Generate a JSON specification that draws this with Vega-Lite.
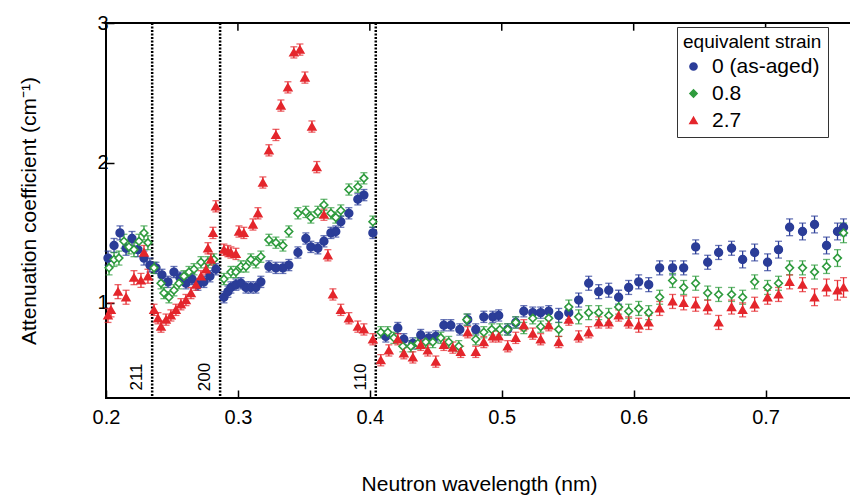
{
  "$schema": "https://vega.github.io/schema/vega-lite/v6.json",
  "autosize": {"type": "none"},
  "width": 746,
  "height": 375,
  "padding": {"left": 106, "top": 23, "right": 0, "bottom": 99},
  "background": "white",
  "config": {
    "font": "Liberation Sans",
    "view": {"stroke": "black", "strokeWidth": 2},
    "axis": {"grid": false, "domain": false, "labelColor": "black", "titleColor": "black", "tickColor": "black", "titleFontWeight": "normal", "labelFontSize": 20, "titleFontSize": 21, "tickSize": -8, "tickWidth": 1.5, "labelFlush": false}
  },
  "datasets": {
    "lines": [
      {"x": 0.235, "l": "211"},
      {"x": 0.2865, "l": "200"},
      {"x": 0.4045, "l": "110"}
    ],
    "topticks": [{"t": 0.3}, {"t": 0.4}, {"t": 0.5}, {"t": 0.6}, {"t": 0.7}],
    "pts": [
      {"s": "0 (as-aged)", "x": 0.2015, "y": 1.32, "e": 0.05},
      {"s": "0 (as-aged)", "x": 0.2061, "y": 1.41, "e": 0.05},
      {"s": "0 (as-aged)", "x": 0.2106, "y": 1.50, "e": 0.05},
      {"s": "0 (as-aged)", "x": 0.2152, "y": 1.39, "e": 0.05},
      {"s": "0 (as-aged)", "x": 0.2197, "y": 1.46, "e": 0.05},
      {"s": "0 (as-aged)", "x": 0.2242, "y": 1.38, "e": 0.05},
      {"s": "0 (as-aged)", "x": 0.2288, "y": 1.32, "e": 0.05},
      {"s": "0 (as-aged)", "x": 0.2333, "y": 1.27, "e": 0.05},
      {"s": "0 (as-aged)", "x": 0.2379, "y": 1.25, "e": 0.04},
      {"s": "0 (as-aged)", "x": 0.2424, "y": 1.20, "e": 0.04},
      {"s": "0 (as-aged)", "x": 0.2470, "y": 1.15, "e": 0.04},
      {"s": "0 (as-aged)", "x": 0.2515, "y": 1.22, "e": 0.04},
      {"s": "0 (as-aged)", "x": 0.2561, "y": 1.18, "e": 0.04},
      {"s": "0 (as-aged)", "x": 0.2606, "y": 1.14, "e": 0.04},
      {"s": "0 (as-aged)", "x": 0.2652, "y": 1.17, "e": 0.04},
      {"s": "0 (as-aged)", "x": 0.2697, "y": 1.13, "e": 0.04},
      {"s": "0 (as-aged)", "x": 0.2742, "y": 1.15, "e": 0.04},
      {"s": "0 (as-aged)", "x": 0.2788, "y": 1.19, "e": 0.04},
      {"s": "0 (as-aged)", "x": 0.2833, "y": 1.24, "e": 0.04},
      {"s": "0 (as-aged)", "x": 0.2894, "y": 1.04, "e": 0.04},
      {"s": "0 (as-aged)", "x": 0.2924, "y": 1.08, "e": 0.04},
      {"s": "0 (as-aged)", "x": 0.2947, "y": 1.11, "e": 0.04},
      {"s": "0 (as-aged)", "x": 0.2985, "y": 1.13, "e": 0.04},
      {"s": "0 (as-aged)", "x": 0.3023, "y": 1.14, "e": 0.04},
      {"s": "0 (as-aged)", "x": 0.3061, "y": 1.11, "e": 0.04},
      {"s": "0 (as-aged)", "x": 0.3098, "y": 1.11, "e": 0.04},
      {"s": "0 (as-aged)", "x": 0.3136, "y": 1.11, "e": 0.04},
      {"s": "0 (as-aged)", "x": 0.3174, "y": 1.15, "e": 0.04},
      {"s": "0 (as-aged)", "x": 0.3235, "y": 1.26, "e": 0.04},
      {"s": "0 (as-aged)", "x": 0.3288, "y": 1.25, "e": 0.04},
      {"s": "0 (as-aged)", "x": 0.3341, "y": 1.25, "e": 0.04},
      {"s": "0 (as-aged)", "x": 0.3386, "y": 1.27, "e": 0.04},
      {"s": "0 (as-aged)", "x": 0.3455, "y": 1.36, "e": 0.04},
      {"s": "0 (as-aged)", "x": 0.3515, "y": 1.46, "e": 0.04},
      {"s": "0 (as-aged)", "x": 0.3553, "y": 1.40, "e": 0.04},
      {"s": "0 (as-aged)", "x": 0.3606, "y": 1.39, "e": 0.04},
      {"s": "0 (as-aged)", "x": 0.3652, "y": 1.44, "e": 0.04},
      {"s": "0 (as-aged)", "x": 0.3705, "y": 1.50, "e": 0.04},
      {"s": "0 (as-aged)", "x": 0.3742, "y": 1.51, "e": 0.04},
      {"s": "0 (as-aged)", "x": 0.3780, "y": 1.58, "e": 0.04},
      {"s": "0 (as-aged)", "x": 0.3841, "y": 1.64, "e": 0.04},
      {"s": "0 (as-aged)", "x": 0.3909, "y": 1.74, "e": 0.04},
      {"s": "0 (as-aged)", "x": 0.3955, "y": 1.77, "e": 0.04},
      {"s": "0 (as-aged)", "x": 0.4023, "y": 1.50, "e": 0.04},
      {"s": "0 (as-aged)", "x": 0.4121, "y": 0.76, "e": 0.04},
      {"s": "0 (as-aged)", "x": 0.4212, "y": 0.82, "e": 0.04},
      {"s": "0 (as-aged)", "x": 0.4258, "y": 0.74, "e": 0.04},
      {"s": "0 (as-aged)", "x": 0.4326, "y": 0.71, "e": 0.04},
      {"s": "0 (as-aged)", "x": 0.4386, "y": 0.77, "e": 0.04},
      {"s": "0 (as-aged)", "x": 0.4447, "y": 0.75, "e": 0.04},
      {"s": "0 (as-aged)", "x": 0.4500, "y": 0.76, "e": 0.04},
      {"s": "0 (as-aged)", "x": 0.4561, "y": 0.84, "e": 0.04},
      {"s": "0 (as-aged)", "x": 0.4614, "y": 0.84, "e": 0.04},
      {"s": "0 (as-aged)", "x": 0.4682, "y": 0.81, "e": 0.04},
      {"s": "0 (as-aged)", "x": 0.4742, "y": 0.88, "e": 0.04},
      {"s": "0 (as-aged)", "x": 0.4803, "y": 0.81, "e": 0.04},
      {"s": "0 (as-aged)", "x": 0.4864, "y": 0.90, "e": 0.04},
      {"s": "0 (as-aged)", "x": 0.4932, "y": 0.90, "e": 0.04},
      {"s": "0 (as-aged)", "x": 0.4977, "y": 0.91, "e": 0.04},
      {"s": "0 (as-aged)", "x": 0.5045, "y": 0.81, "e": 0.04},
      {"s": "0 (as-aged)", "x": 0.5106, "y": 0.86, "e": 0.04},
      {"s": "0 (as-aged)", "x": 0.5167, "y": 0.94, "e": 0.04},
      {"s": "0 (as-aged)", "x": 0.5235, "y": 0.93, "e": 0.04},
      {"s": "0 (as-aged)", "x": 0.5295, "y": 0.93, "e": 0.04},
      {"s": "0 (as-aged)", "x": 0.5356, "y": 0.94, "e": 0.04},
      {"s": "0 (as-aged)", "x": 0.5432, "y": 0.91, "e": 0.05},
      {"s": "0 (as-aged)", "x": 0.5508, "y": 0.93, "e": 0.05},
      {"s": "0 (as-aged)", "x": 0.5583, "y": 1.02, "e": 0.05},
      {"s": "0 (as-aged)", "x": 0.5659, "y": 1.14, "e": 0.05},
      {"s": "0 (as-aged)", "x": 0.5735, "y": 1.08, "e": 0.05},
      {"s": "0 (as-aged)", "x": 0.5811, "y": 1.09, "e": 0.05},
      {"s": "0 (as-aged)", "x": 0.5886, "y": 1.04, "e": 0.05},
      {"s": "0 (as-aged)", "x": 0.5962, "y": 1.11, "e": 0.05},
      {"s": "0 (as-aged)", "x": 0.6038, "y": 1.15, "e": 0.05},
      {"s": "0 (as-aged)", "x": 0.6114, "y": 1.13, "e": 0.05},
      {"s": "0 (as-aged)", "x": 0.6197, "y": 1.25, "e": 0.05},
      {"s": "0 (as-aged)", "x": 0.6295, "y": 1.25, "e": 0.05},
      {"s": "0 (as-aged)", "x": 0.6379, "y": 1.25, "e": 0.05},
      {"s": "0 (as-aged)", "x": 0.6470, "y": 1.40, "e": 0.05},
      {"s": "0 (as-aged)", "x": 0.6561, "y": 1.29, "e": 0.05},
      {"s": "0 (as-aged)", "x": 0.6644, "y": 1.36, "e": 0.05},
      {"s": "0 (as-aged)", "x": 0.6742, "y": 1.39, "e": 0.05},
      {"s": "0 (as-aged)", "x": 0.6826, "y": 1.31, "e": 0.06},
      {"s": "0 (as-aged)", "x": 0.6917, "y": 1.36, "e": 0.06},
      {"s": "0 (as-aged)", "x": 0.7015, "y": 1.29, "e": 0.06},
      {"s": "0 (as-aged)", "x": 0.7098, "y": 1.38, "e": 0.06},
      {"s": "0 (as-aged)", "x": 0.7182, "y": 1.54, "e": 0.06},
      {"s": "0 (as-aged)", "x": 0.7280, "y": 1.51, "e": 0.06},
      {"s": "0 (as-aged)", "x": 0.7371, "y": 1.56, "e": 0.06},
      {"s": "0 (as-aged)", "x": 0.7462, "y": 1.41, "e": 0.06},
      {"s": "0 (as-aged)", "x": 0.7545, "y": 1.51, "e": 0.06},
      {"s": "0 (as-aged)", "x": 0.7591, "y": 1.54, "e": 0.06},

      {"s": "0.8", "x": 0.2023, "y": 1.25, "e": 0.05},
      {"s": "0.8", "x": 0.2061, "y": 1.31, "e": 0.05},
      {"s": "0.8", "x": 0.2098, "y": 1.32, "e": 0.05},
      {"s": "0.8", "x": 0.2136, "y": 1.44, "e": 0.05},
      {"s": "0.8", "x": 0.2174, "y": 1.40, "e": 0.05},
      {"s": "0.8", "x": 0.2212, "y": 1.38, "e": 0.05},
      {"s": "0.8", "x": 0.2250, "y": 1.44, "e": 0.05},
      {"s": "0.8", "x": 0.2288, "y": 1.50, "e": 0.05},
      {"s": "0.8", "x": 0.2318, "y": 1.43, "e": 0.05},
      {"s": "0.8", "x": 0.2364, "y": 1.25, "e": 0.04},
      {"s": "0.8", "x": 0.2417, "y": 1.14, "e": 0.04},
      {"s": "0.8", "x": 0.2439, "y": 1.07, "e": 0.04},
      {"s": "0.8", "x": 0.2477, "y": 1.04, "e": 0.04},
      {"s": "0.8", "x": 0.2515, "y": 1.09, "e": 0.04},
      {"s": "0.8", "x": 0.2553, "y": 1.14, "e": 0.04},
      {"s": "0.8", "x": 0.2591, "y": 1.19, "e": 0.04},
      {"s": "0.8", "x": 0.2629, "y": 1.22, "e": 0.04},
      {"s": "0.8", "x": 0.2667, "y": 1.24, "e": 0.04},
      {"s": "0.8", "x": 0.2720, "y": 1.29, "e": 0.04},
      {"s": "0.8", "x": 0.2773, "y": 1.29, "e": 0.04},
      {"s": "0.8", "x": 0.2818, "y": 1.31, "e": 0.04},
      {"s": "0.8", "x": 0.2894, "y": 1.17, "e": 0.04},
      {"s": "0.8", "x": 0.2947, "y": 1.22, "e": 0.04},
      {"s": "0.8", "x": 0.2985, "y": 1.22, "e": 0.04},
      {"s": "0.8", "x": 0.3023, "y": 1.26, "e": 0.04},
      {"s": "0.8", "x": 0.3061, "y": 1.26, "e": 0.04},
      {"s": "0.8", "x": 0.3098, "y": 1.31, "e": 0.04},
      {"s": "0.8", "x": 0.3136, "y": 1.29, "e": 0.04},
      {"s": "0.8", "x": 0.3174, "y": 1.33, "e": 0.04},
      {"s": "0.8", "x": 0.3235, "y": 1.45, "e": 0.04},
      {"s": "0.8", "x": 0.3288, "y": 1.43, "e": 0.04},
      {"s": "0.8", "x": 0.3341, "y": 1.41, "e": 0.04},
      {"s": "0.8", "x": 0.3386, "y": 1.51, "e": 0.04},
      {"s": "0.8", "x": 0.3455, "y": 1.64, "e": 0.04},
      {"s": "0.8", "x": 0.3515, "y": 1.65, "e": 0.04},
      {"s": "0.8", "x": 0.3553, "y": 1.61, "e": 0.04},
      {"s": "0.8", "x": 0.3606, "y": 1.65, "e": 0.04},
      {"s": "0.8", "x": 0.3652, "y": 1.70, "e": 0.04},
      {"s": "0.8", "x": 0.3705, "y": 1.64, "e": 0.04},
      {"s": "0.8", "x": 0.3742, "y": 1.61, "e": 0.04},
      {"s": "0.8", "x": 0.3780, "y": 1.66, "e": 0.04},
      {"s": "0.8", "x": 0.3841, "y": 1.81, "e": 0.04},
      {"s": "0.8", "x": 0.3909, "y": 1.83, "e": 0.04},
      {"s": "0.8", "x": 0.3955, "y": 1.89, "e": 0.04},
      {"s": "0.8", "x": 0.4023, "y": 1.58, "e": 0.04},
      {"s": "0.8", "x": 0.4083, "y": 0.79, "e": 0.04},
      {"s": "0.8", "x": 0.4136, "y": 0.79, "e": 0.04},
      {"s": "0.8", "x": 0.4182, "y": 0.75, "e": 0.04},
      {"s": "0.8", "x": 0.4250, "y": 0.69, "e": 0.04},
      {"s": "0.8", "x": 0.4311, "y": 0.69, "e": 0.04},
      {"s": "0.8", "x": 0.4364, "y": 0.71, "e": 0.04},
      {"s": "0.8", "x": 0.4424, "y": 0.72, "e": 0.04},
      {"s": "0.8", "x": 0.4477, "y": 0.72, "e": 0.04},
      {"s": "0.8", "x": 0.4538, "y": 0.75, "e": 0.04},
      {"s": "0.8", "x": 0.4598, "y": 0.72, "e": 0.04},
      {"s": "0.8", "x": 0.4674, "y": 0.69, "e": 0.04},
      {"s": "0.8", "x": 0.4735, "y": 0.88, "e": 0.04},
      {"s": "0.8", "x": 0.4803, "y": 0.74, "e": 0.04},
      {"s": "0.8", "x": 0.4864, "y": 0.79, "e": 0.04},
      {"s": "0.8", "x": 0.4924, "y": 0.81, "e": 0.04},
      {"s": "0.8", "x": 0.4985, "y": 0.81, "e": 0.04},
      {"s": "0.8", "x": 0.5045, "y": 0.81, "e": 0.04},
      {"s": "0.8", "x": 0.5106, "y": 0.86, "e": 0.04},
      {"s": "0.8", "x": 0.5167, "y": 0.82, "e": 0.04},
      {"s": "0.8", "x": 0.5235, "y": 0.89, "e": 0.04},
      {"s": "0.8", "x": 0.5295, "y": 0.83, "e": 0.04},
      {"s": "0.8", "x": 0.5356, "y": 0.89, "e": 0.04},
      {"s": "0.8", "x": 0.5432, "y": 0.81, "e": 0.05},
      {"s": "0.8", "x": 0.5508, "y": 0.97, "e": 0.05},
      {"s": "0.8", "x": 0.5583, "y": 0.90, "e": 0.05},
      {"s": "0.8", "x": 0.5659, "y": 0.93, "e": 0.05},
      {"s": "0.8", "x": 0.5735, "y": 0.93, "e": 0.05},
      {"s": "0.8", "x": 0.5811, "y": 0.91, "e": 0.05},
      {"s": "0.8", "x": 0.5886, "y": 0.97, "e": 0.05},
      {"s": "0.8", "x": 0.5962, "y": 0.94, "e": 0.05},
      {"s": "0.8", "x": 0.6038, "y": 0.96, "e": 0.05},
      {"s": "0.8", "x": 0.6114, "y": 0.93, "e": 0.05},
      {"s": "0.8", "x": 0.6197, "y": 1.04, "e": 0.05},
      {"s": "0.8", "x": 0.6295, "y": 1.16, "e": 0.05},
      {"s": "0.8", "x": 0.6379, "y": 1.11, "e": 0.05},
      {"s": "0.8", "x": 0.6470, "y": 1.14, "e": 0.05},
      {"s": "0.8", "x": 0.6561, "y": 1.07, "e": 0.05},
      {"s": "0.8", "x": 0.6644, "y": 1.06, "e": 0.05},
      {"s": "0.8", "x": 0.6742, "y": 1.06, "e": 0.05},
      {"s": "0.8", "x": 0.6826, "y": 1.04, "e": 0.05},
      {"s": "0.8", "x": 0.6917, "y": 1.15, "e": 0.05},
      {"s": "0.8", "x": 0.7015, "y": 1.11, "e": 0.05},
      {"s": "0.8", "x": 0.7098, "y": 1.14, "e": 0.05},
      {"s": "0.8", "x": 0.7182, "y": 1.25, "e": 0.05},
      {"s": "0.8", "x": 0.7280, "y": 1.25, "e": 0.05},
      {"s": "0.8", "x": 0.7371, "y": 1.22, "e": 0.05},
      {"s": "0.8", "x": 0.7462, "y": 1.26, "e": 0.05},
      {"s": "0.8", "x": 0.7545, "y": 1.32, "e": 0.06},
      {"s": "0.8", "x": 0.7591, "y": 1.50, "e": 0.07},

      {"s": "2.7", "x": 0.2015, "y": 0.91, "e": 0.05},
      {"s": "2.7", "x": 0.2038, "y": 0.95, "e": 0.05},
      {"s": "2.7", "x": 0.2091, "y": 1.08, "e": 0.05},
      {"s": "2.7", "x": 0.2152, "y": 1.04, "e": 0.05},
      {"s": "2.7", "x": 0.2212, "y": 1.18, "e": 0.05},
      {"s": "2.7", "x": 0.2265, "y": 1.16, "e": 0.05},
      {"s": "2.7", "x": 0.2288, "y": 1.36, "e": 0.05},
      {"s": "2.7", "x": 0.2318, "y": 1.19, "e": 0.05},
      {"s": "2.7", "x": 0.2364, "y": 0.95, "e": 0.04},
      {"s": "2.7", "x": 0.2394, "y": 0.89, "e": 0.04},
      {"s": "2.7", "x": 0.2417, "y": 0.83, "e": 0.04},
      {"s": "2.7", "x": 0.2455, "y": 0.88, "e": 0.04},
      {"s": "2.7", "x": 0.2492, "y": 0.91, "e": 0.04},
      {"s": "2.7", "x": 0.2530, "y": 0.95, "e": 0.04},
      {"s": "2.7", "x": 0.2568, "y": 0.99, "e": 0.04},
      {"s": "2.7", "x": 0.2606, "y": 1.02, "e": 0.04},
      {"s": "2.7", "x": 0.2644, "y": 1.07, "e": 0.04},
      {"s": "2.7", "x": 0.2682, "y": 1.13, "e": 0.04},
      {"s": "2.7", "x": 0.2720, "y": 1.19, "e": 0.04},
      {"s": "2.7", "x": 0.2758, "y": 1.24, "e": 0.04},
      {"s": "2.7", "x": 0.2773, "y": 1.39, "e": 0.04},
      {"s": "2.7", "x": 0.2795, "y": 1.31, "e": 0.04},
      {"s": "2.7", "x": 0.2811, "y": 1.50, "e": 0.04},
      {"s": "2.7", "x": 0.2833, "y": 1.69, "e": 0.04},
      {"s": "2.7", "x": 0.2894, "y": 1.38, "e": 0.04},
      {"s": "2.7", "x": 0.2924, "y": 1.37, "e": 0.04},
      {"s": "2.7", "x": 0.2947, "y": 1.36, "e": 0.04},
      {"s": "2.7", "x": 0.2985, "y": 1.35, "e": 0.04},
      {"s": "2.7", "x": 0.3008, "y": 1.51, "e": 0.04},
      {"s": "2.7", "x": 0.3045, "y": 1.50, "e": 0.04},
      {"s": "2.7", "x": 0.3114, "y": 1.56, "e": 0.04},
      {"s": "2.7", "x": 0.3152, "y": 1.64, "e": 0.04},
      {"s": "2.7", "x": 0.3189, "y": 1.86, "e": 0.04},
      {"s": "2.7", "x": 0.3235, "y": 2.09, "e": 0.04},
      {"s": "2.7", "x": 0.3288, "y": 2.20, "e": 0.04},
      {"s": "2.7", "x": 0.3326, "y": 2.41, "e": 0.04},
      {"s": "2.7", "x": 0.3379, "y": 2.54, "e": 0.04},
      {"s": "2.7", "x": 0.3424, "y": 2.79, "e": 0.04},
      {"s": "2.7", "x": 0.3470, "y": 2.81, "e": 0.04},
      {"s": "2.7", "x": 0.3508, "y": 2.61, "e": 0.04},
      {"s": "2.7", "x": 0.3561, "y": 2.26, "e": 0.04},
      {"s": "2.7", "x": 0.3598, "y": 1.97, "e": 0.04},
      {"s": "2.7", "x": 0.3652, "y": 1.63, "e": 0.04},
      {"s": "2.7", "x": 0.3682, "y": 1.34, "e": 0.04},
      {"s": "2.7", "x": 0.3720, "y": 1.06, "e": 0.04},
      {"s": "2.7", "x": 0.3780, "y": 0.95, "e": 0.04},
      {"s": "2.7", "x": 0.3841, "y": 0.89, "e": 0.04},
      {"s": "2.7", "x": 0.3909, "y": 0.83, "e": 0.04},
      {"s": "2.7", "x": 0.3955, "y": 0.81, "e": 0.04},
      {"s": "2.7", "x": 0.4023, "y": 0.74, "e": 0.04},
      {"s": "2.7", "x": 0.4083, "y": 0.59, "e": 0.04},
      {"s": "2.7", "x": 0.4144, "y": 0.66, "e": 0.04},
      {"s": "2.7", "x": 0.4212, "y": 0.74, "e": 0.04},
      {"s": "2.7", "x": 0.4258, "y": 0.64, "e": 0.04},
      {"s": "2.7", "x": 0.4326, "y": 0.61, "e": 0.04},
      {"s": "2.7", "x": 0.4386, "y": 0.70, "e": 0.04},
      {"s": "2.7", "x": 0.4439, "y": 0.66, "e": 0.04},
      {"s": "2.7", "x": 0.4500, "y": 0.58, "e": 0.04},
      {"s": "2.7", "x": 0.4561, "y": 0.70, "e": 0.04},
      {"s": "2.7", "x": 0.4629, "y": 0.68, "e": 0.04},
      {"s": "2.7", "x": 0.4689, "y": 0.65, "e": 0.04},
      {"s": "2.7", "x": 0.4742, "y": 0.79, "e": 0.04},
      {"s": "2.7", "x": 0.4803, "y": 0.65, "e": 0.04},
      {"s": "2.7", "x": 0.4864, "y": 0.72, "e": 0.04},
      {"s": "2.7", "x": 0.4932, "y": 0.76, "e": 0.04},
      {"s": "2.7", "x": 0.4977, "y": 0.76, "e": 0.04},
      {"s": "2.7", "x": 0.5045, "y": 0.69, "e": 0.04},
      {"s": "2.7", "x": 0.5106, "y": 0.75, "e": 0.04},
      {"s": "2.7", "x": 0.5167, "y": 0.84, "e": 0.04},
      {"s": "2.7", "x": 0.5235, "y": 0.78, "e": 0.04},
      {"s": "2.7", "x": 0.5295, "y": 0.74, "e": 0.04},
      {"s": "2.7", "x": 0.5356, "y": 0.84, "e": 0.04},
      {"s": "2.7", "x": 0.5432, "y": 0.72, "e": 0.04},
      {"s": "2.7", "x": 0.5508, "y": 0.88, "e": 0.04},
      {"s": "2.7", "x": 0.5583, "y": 0.76, "e": 0.04},
      {"s": "2.7", "x": 0.5659, "y": 0.79, "e": 0.04},
      {"s": "2.7", "x": 0.5735, "y": 0.86, "e": 0.04},
      {"s": "2.7", "x": 0.5811, "y": 0.86, "e": 0.04},
      {"s": "2.7", "x": 0.5886, "y": 0.91, "e": 0.04},
      {"s": "2.7", "x": 0.5962, "y": 0.86, "e": 0.04},
      {"s": "2.7", "x": 0.6038, "y": 0.84, "e": 0.05},
      {"s": "2.7", "x": 0.6114, "y": 0.86, "e": 0.05},
      {"s": "2.7", "x": 0.6197, "y": 0.96, "e": 0.05},
      {"s": "2.7", "x": 0.6295, "y": 1.01, "e": 0.05},
      {"s": "2.7", "x": 0.6379, "y": 1.00, "e": 0.05},
      {"s": "2.7", "x": 0.6470, "y": 0.99, "e": 0.05},
      {"s": "2.7", "x": 0.6561, "y": 0.97, "e": 0.05},
      {"s": "2.7", "x": 0.6644, "y": 0.86, "e": 0.05},
      {"s": "2.7", "x": 0.6742, "y": 0.97, "e": 0.05},
      {"s": "2.7", "x": 0.6826, "y": 0.95, "e": 0.05},
      {"s": "2.7", "x": 0.6917, "y": 0.99, "e": 0.05},
      {"s": "2.7", "x": 0.7015, "y": 1.04, "e": 0.05},
      {"s": "2.7", "x": 0.7098, "y": 1.06, "e": 0.05},
      {"s": "2.7", "x": 0.7182, "y": 1.15, "e": 0.05},
      {"s": "2.7", "x": 0.7280, "y": 1.13, "e": 0.05},
      {"s": "2.7", "x": 0.7371, "y": 1.04, "e": 0.06},
      {"s": "2.7", "x": 0.7462, "y": 1.11, "e": 0.06},
      {"s": "2.7", "x": 0.7545, "y": 1.09, "e": 0.07},
      {"s": "2.7", "x": 0.7591, "y": 1.11, "e": 0.07}
    ]
  },
  "encoding": {
    "x": {
      "type": "quantitative", "title": "Neutron wavelength (nm)",
      "scale": {"domain": [0.2, 0.7655], "nice": false, "zero": false},
      "axis": {"values": [0.2, 0.3, 0.4, 0.5, 0.6, 0.7], "format": ".1f", "labelPadding": 17, "titlePadding": 46}
    }
  },
  "layer": [
    {
      "data": {"name": "lines"},
      "mark": {"type": "rule", "color": "black", "strokeWidth": 2.5, "strokeDash": [2, 1.5]},
      "encoding": {"x": {"field": "x"}}
    },
    {
      "data": {"name": "topticks"},
      "mark": {"type": "rule", "color": "black", "strokeWidth": 1.5},
      "encoding": {"x": {"field": "t"}, "y": {"datum": 3.0, "title": "Attenuation coefficient (cm⁻¹)"}, "y2": {"datum": 2.945}}
    },
    {
      "data": {"name": "lines"},
      "mark": {"type": "text", "angle": 270, "align": "center", "baseline": "bottom", "dy": -6, "fontSize": 17, "color": "black"},
      "encoding": {
        "x": {"field": "x"},
        "y": {"datum": 0.47, "title": "Attenuation coefficient (cm⁻¹)"},
        "text": {"field": "l"}
      }
    },
    {
      "data": {"name": "pts"},
      "mark": {"type": "errorbar", "ticks": {"size": 7, "thickness": 1.3}, "thickness": 1.3},
      "encoding": {
        "x": {"field": "x"},
        "y": {"field": "y", "type": "quantitative", "title": "Attenuation coefficient (cm⁻¹)"},
        "yError": {"field": "e"},
        "color": {"field": "s", "type": "nominal", "title": "equivalent strain",
          "scale": {"domain": ["0 (as-aged)", "0.8", "2.7"], "range": ["#2b3d98", "#2e9b3d", "#e4262c"]},
          "legend": {"orient": "none", "legendX": 571, "legendY": 4, "strokeColor": "#333333", "fillColor": "white", "padding": 6, "titleFontSize": 19, "titleFontWeight": "normal", "titleColor": "black", "labelFontSize": 21, "labelColor": "black", "symbolSize": 50, "symbolStrokeWidth": 1.6, "symbolOpacity": 1, "rowPadding": 5, "labelOffset": 8, "titlePadding": 4,
            "encode": {"symbols": {"update": {"fill": {"scale": "fill", "field": "value"}, "stroke": {"scale": "color", "field": "value"}, "opacity": {"value": 1}, "fillOpacity": {"value": 1}, "strokeOpacity": {"value": 1}, "strokeWidth": {"value": 1.6}}}}}}
      }
    },
    {
      "data": {"name": "pts"},
      "mark": {"type": "point", "size": 60, "strokeWidth": 1.6, "opacity": 1, "filled": false},
      "encoding": {
        "x": {"field": "x"},
        "y": {
          "field": "y", "type": "quantitative", "title": "Attenuation coefficient (cm⁻¹)",
          "scale": {"domain": [0.32, 3.0], "nice": false, "zero": false},
          "axis": {"values": [1, 2, 3], "format": "d", "labelPadding": 6, "titlePadding": 57}
        },
        "color": {"field": "s", "type": "nominal", "title": "equivalent strain"},
        "shape": {"field": "s", "type": "nominal", "title": "equivalent strain", "scale": {"domain": ["0 (as-aged)", "0.8", "2.7"], "range": ["circle", "diamond", "triangle-up"]}},
        "fill": {"field": "s", "type": "nominal", "title": "equivalent strain", "scale": {"domain": ["0 (as-aged)", "0.8", "2.7"], "range": ["#2b3d98", "#ffffff", "#e4262c"]}}
      }
    },
    {
      "mark": {"type": "rule", "color": "black", "strokeWidth": 3},
      "encoding": {"x": {"datum": 0.3447}, "y": {"datum": 1.89, "title": "Attenuation coefficient (cm⁻¹)"}, "y2": {"datum": 2.08}}
    },
    {
      "mark": {"type": "point", "shape": "M0,-1L0.55,1L-0.55,1Z", "size": 250, "filled": true, "color": "black", "opacity": 1},
      "encoding": {"x": {"datum": 0.3447}, "y": {"datum": 2.12, "title": "Attenuation coefficient (cm⁻¹)"}}
    }
  ]
}
